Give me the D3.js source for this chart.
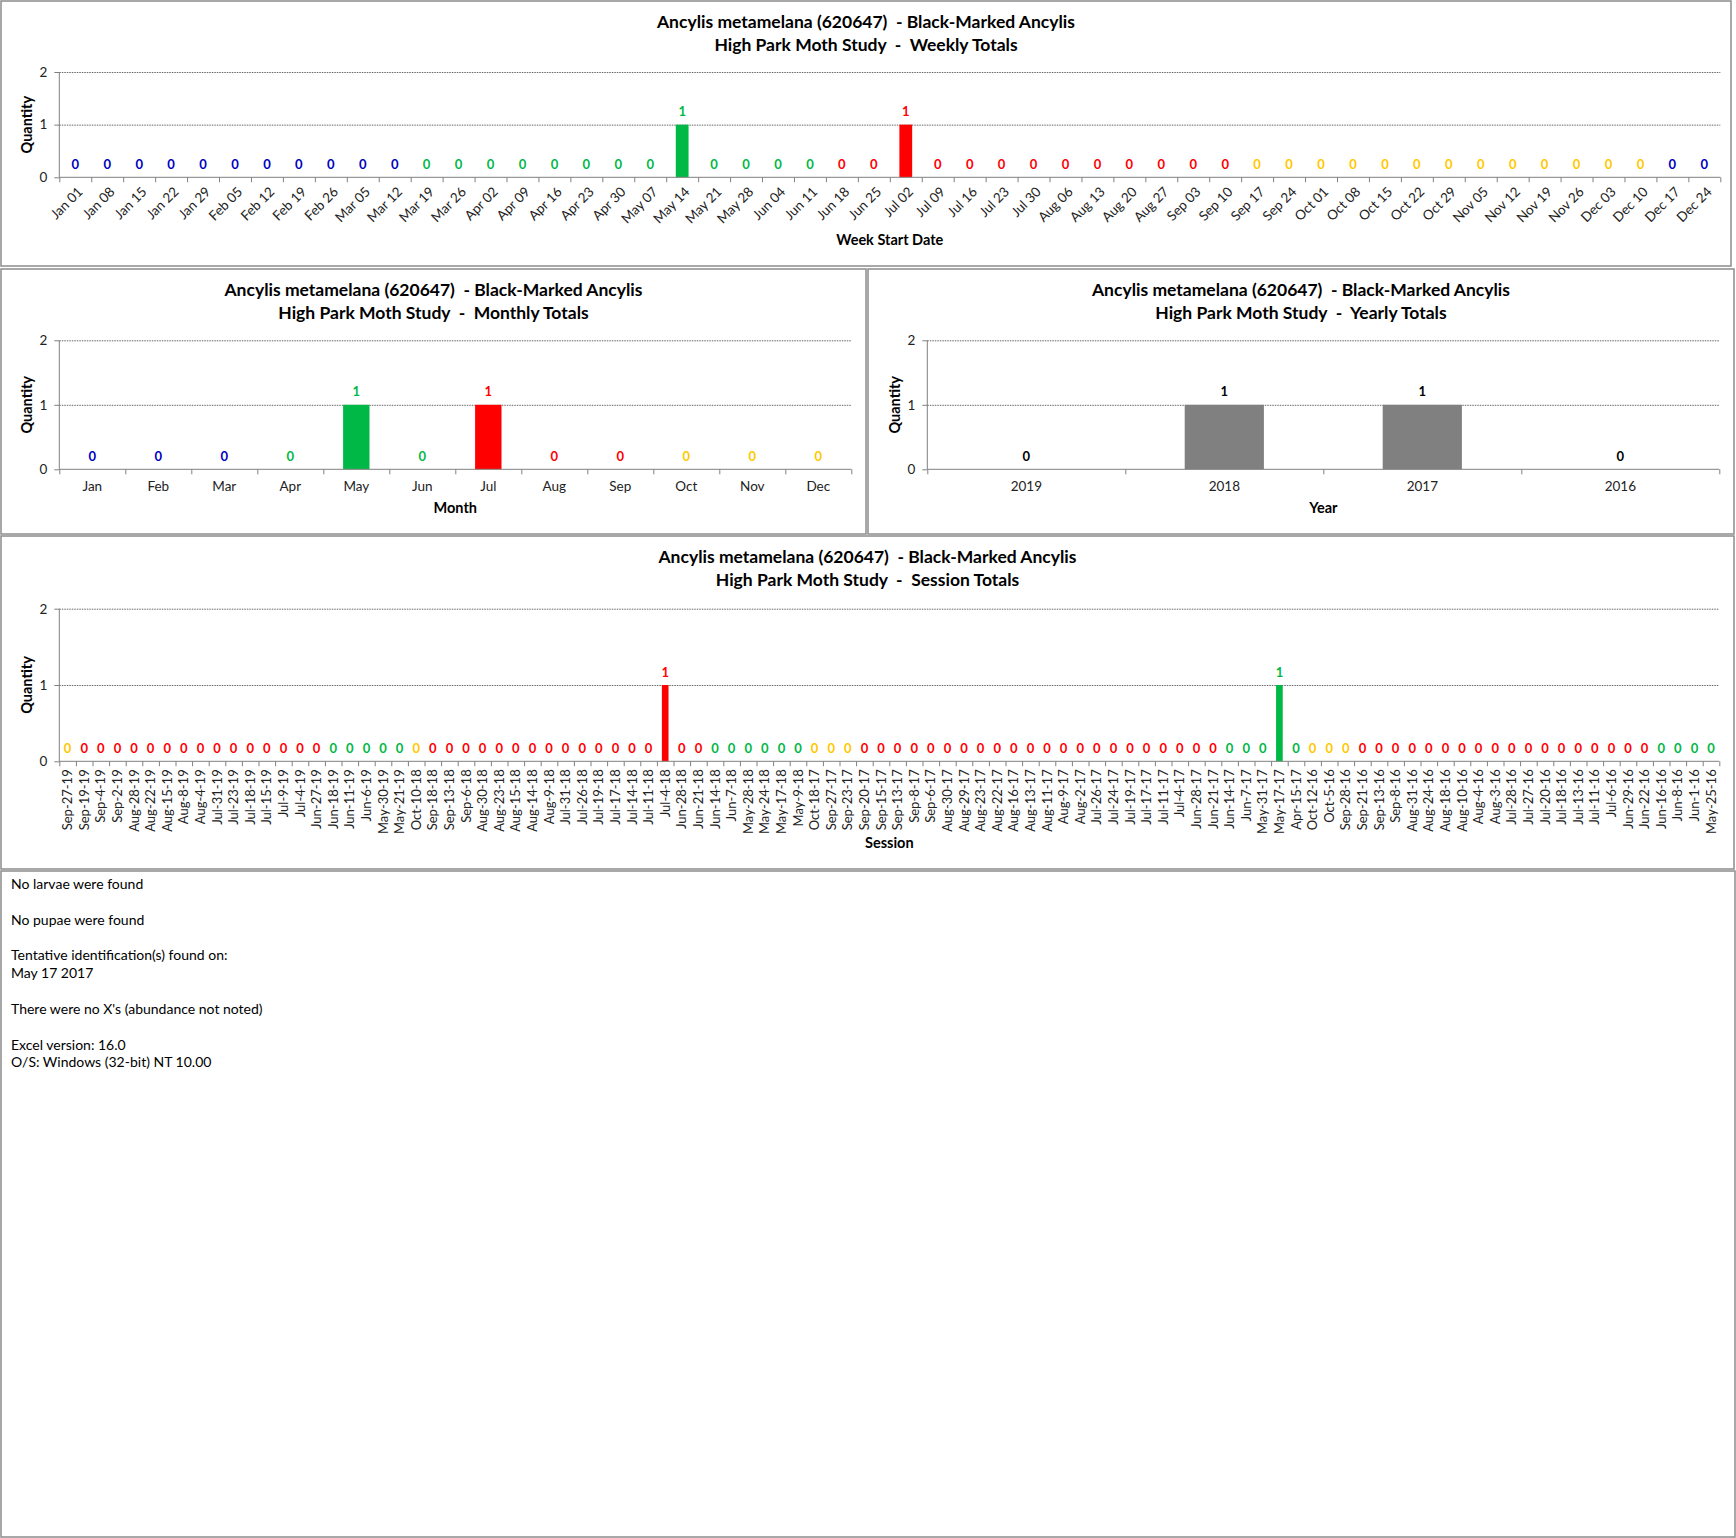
<!DOCTYPE html>
<html>
<head>
<meta charset="utf-8">
<script src="https://cdn.jsdelivr.net/npm/d3@7"></script>
<style>
  body { margin: 0; background: #fff; }
  text { font-family: Lato, "Liberation Sans", sans-serif; }
</style>
</head>
<body>
<div id="chart"></div>
<script>
// ---- data ----
var weekCats = ["Jan 01","Jan 08","Jan 15","Jan 22","Jan 29","Feb 05","Feb 12","Feb 19","Feb 26","Mar 05","Mar 12",
  "Mar 19","Mar 26","Apr 02","Apr 09","Apr 16","Apr 23","Apr 30","May 07","May 14","May 21","May 28","Jun 04","Jun 11",
  "Jun 18","Jun 25","Jul 02","Jul 09","Jul 16","Jul 23","Jul 30","Aug 06","Aug 13","Aug 20","Aug 27","Sep 03","Sep 10",
  "Sep 17","Sep 24","Oct 01","Oct 08","Oct 15","Oct 22","Oct 29","Nov 05","Nov 12","Nov 19","Nov 26","Dec 03","Dec 10",
  "Dec 17","Dec 24"];
var weekVals = [0,0,0,0,0,0,0,0,0,0,0, 0,0,0,0,0,0,0,0,1,0,0,0,0, 0,0,1,0,0,0,0,0,0,0,0,0,0, 0,0,0,0,0,0,0,0,0,0,0,0,0, 0,0];
var weekSeason = "BBBBBBBBBBBGGGGGGGGGGGGGRRRRRRRRRRRRRYYYYYYYYYYYYYBB";

var monthCats = ["Jan","Feb","Mar","Apr","May","Jun","Jul","Aug","Sep","Oct","Nov","Dec"];
var monthVals = [0,0,0,0,1,0,1,0,0,0,0,0];
var monthSeason = "BBBGGGRRRYYY";

var yearCats = ["2019","2018","2017","2016"];
var yearVals = [0,1,1,0];

var sessionCats = ["Sep-27-19","Sep-19-19","Sep-4-19","Sep-2-19","Aug-28-19","Aug-22-19","Aug-15-19","Aug-8-19","Aug-4-19",
  "Jul-31-19","Jul-23-19","Jul-18-19","Jul-15-19","Jul-9-19","Jul-4-19","Jun-27-19","Jun-18-19","Jun-11-19","Jun-6-19",
  "May-30-19","May-21-19","Oct-10-18","Sep-18-18","Sep-13-18","Sep-6-18","Aug-30-18","Aug-23-18","Aug-15-18","Aug-14-18",
  "Aug-9-18","Jul-31-18","Jul-26-18","Jul-19-18","Jul-17-18","Jul-14-18","Jul-11-18","Jul-4-18","Jun-28-18","Jun-21-18",
  "Jun-14-18","Jun-7-18","May-28-18","May-24-18","May-17-18","May-9-18","Oct-18-17","Sep-27-17","Sep-23-17","Sep-20-17",
  "Sep-15-17","Sep-13-17","Sep-8-17","Sep-6-17","Aug-30-17","Aug-29-17","Aug-23-17","Aug-22-17","Aug-16-17","Aug-13-17",
  "Aug-11-17","Aug-9-17","Aug-2-17","Jul-26-17","Jul-24-17","Jul-19-17","Jul-17-17","Jul-11-17","Jul-4-17","Jun-28-17",
  "Jun-21-17","Jun-14-17","Jun-7-17","May-31-17","May-17-17","Apr-15-17","Oct-12-16","Oct-5-16","Sep-28-16","Sep-21-16",
  "Sep-13-16","Sep-8-16","Aug-31-16","Aug-24-16","Aug-18-16","Aug-10-16","Aug-4-16","Aug-3-16","Jul-28-16","Jul-27-16",
  "Jul-20-16","Jul-18-16","Jul-13-16","Jul-11-16","Jul-6-16","Jun-29-16","Jun-22-16","Jun-16-16","Jun-8-16","Jun-1-16",
  "May-25-16"];
var sessionVals = sessionCats.map(function (d) { return 0; });
sessionVals[36] = 1;   // Jul-4-18
sessionVals[73] = 1;   // May-17-17
var sessionSeason = "YRRRRRRRRRRRRRRRGGGGGYRRRRRRRRRRRRRRRRRGGGGGGYYYRRRRRRRRRRRRRRRRRRRRRRGGGGGYYYRRRRRRRRRRRRRRRRRRGGGG";

var yTicks = [0,1,2];
var speciesTitle = "Ancylis metamelana (620647)  - Black-Marked Ancylis";

var notes = [
  ["No larvae were found"],
  ["No pupae were found"],
  ["Tentative identification(s) found on:", "May 17 2017"],
  ["There were no X's (abundance not noted)"],
  ["Excel version: 16.0", "O/S: Windows (32-bit) NT 10.00"]
];

// ---- styling ----
var seasonColor = { B: "#0000C0", G: "#00B845", R: "#FF0000", Y: "#FFC800" };
var gray = "#808080";

var svg = d3.select("#chart").append("svg")
    .attr("width", 1736)
    .attr("height", 1538);

svg.append("rect").attr("width", 1736).attr("height", 1538).attr("fill", "#fff");

const panelBox = (x0, y0, x1, y1) => {
  svg.append("rect")
    .attr("x", x0).attr("y", y0)
    .attr("width", x1 - x0).attr("height", y1 - y0)
    .attr("fill", "none")
    .attr("stroke", "#8c8c8c")
    .attr("stroke-width", 1.5);
}

const drawBarChart = (o) => {
  var g = svg.append("g");
  var n = o.cats.length;

  var x = d3.scaleBand()
    .domain(o.cats)
    .range([o.left, o.right])
    .paddingInner(0.6)
    .paddingOuter(0.3);
  var xi = d3.scaleLinear().domain([0, n]).range([o.left, o.right]);
  var y = d3.scaleLinear().domain([0, 2]).range([o.bottom, o.top]);

  var data = o.cats.map((c, i) => ({ cat: c, val: o.vals[i], col: o.colors[i] }));

  // title
  var cx = (o.px0 + o.px1) / 2;
  g.append("text")
    .attr("x", cx).attr("y", o.titleY)
    .attr("text-anchor", "middle")
    .style("white-space", "pre")
    .style("font-size", "17.5px").style("font-weight", "bold")
    .text(speciesTitle);
  g.append("text")
    .attr("x", cx).attr("y", o.titleY + 23)
    .attr("text-anchor", "middle")
    .style("white-space", "pre")
    .style("font-size", "17.5px").style("font-weight", "bold")
    .text("High Park Moth Study  -  " + o.subtitle);

  // gridlines
  g.append("g")
    .attr("transform", "translate(" + o.left + ",0)")
    .call(d3.axisLeft(y).tickValues([1, 2]).tickSize(-(o.right - o.left)).tickFormat(""))
    .call(s => s.select(".domain").remove())
    .selectAll("line")
    .attr("stroke", "#404040")
    .attr("stroke-width", 0.8)
    .attr("stroke-dasharray", "1.5,1");

  // bars
  g.selectAll(".bar")
    .data(data)
    .enter()
    .append("rect")
    .attr("class", "bar")
    .attr("x", d => x(d.cat))
    .attr("y", d => y(d.val))
    .attr("width", x.bandwidth())
    .attr("height", d => y(0) - y(d.val))
    .attr("fill", d => d.col);

  // data labels
  g.selectAll(".lbl")
    .data(data)
    .enter()
    .append("text")
    .attr("class", "lbl")
    .attr("x", d => x(d.cat) + x.bandwidth() / 2)
    .attr("y", d => y(d.val) - 13)
    .attr("dy", "0.35em")
    .attr("text-anchor", "middle")
    .style("font-size", "13px").style("font-weight", "bold")
    .attr("fill", d => o.labelColor || d.col)
    .text(d => d.val);

  // y axis
  var ya = g.append("g")
    .attr("transform", "translate(" + o.left + ",0)")
    .call(d3.axisLeft(y).tickValues(yTicks).tickSize(5).tickPadding(7).tickFormat(d3.format("d")));
  ya.select(".domain").attr("stroke", gray).attr("d", "M0," + o.bottom + "V" + o.top);
  ya.selectAll("line").attr("stroke", gray);
  ya.selectAll("text").style("font-size", "13.5px").attr("fill", "#222").style("font-family", "Lato");

  // x axis line and boundary ticks
  var xa = g.append("g")
    .attr("transform", "translate(0," + o.bottom + ")")
    .call(d3.axisBottom(xi).tickValues(d3.range(n + 1)).tickSize(5).tickFormat(""));
  xa.select(".domain").attr("stroke", gray).attr("d", "M" + o.left + ",0H" + o.right);
  xa.selectAll("line").attr("stroke", gray);

  // x category labels
  var xl = g.append("g")
    .attr("transform", "translate(0," + o.bottom + ")")
    .call(d3.axisBottom(x).tickSize(0).tickPadding(0));
  xl.select(".domain").remove();
  var xt = xl.selectAll("text")
    .style("font-size", o.rotate === 90 ? "13px" : "13.5px").style("font-family", "Lato")
    .attr("fill", "#222");
  if (o.rotate === 45) {
    xt.attr("text-anchor", "end")
      .attr("y", 0).attr("dy", "0.35em")
      .attr("transform", "translate(5,12) rotate(-45)");
  } else if (o.rotate === 90) {
    xt.attr("text-anchor", "end")
      .attr("y", 0).attr("x", 0).attr("dy", "0.35em")
      .attr("transform", "translate(0,8) rotate(-90)");
  } else {
    xt.attr("y", 22).attr("dy", "0");
  }

  // axis titles
  g.append("text")
    .attr("x", (o.left + o.right) / 2).attr("y", o.xTitleY)
    .attr("text-anchor", "middle")
    .style("font-size", "14.5px").style("font-weight", "bold")
    .text(o.xTitle);
  g.append("text")
    .attr("transform", "translate(" + (o.left - 27) + "," + ((o.top + o.bottom) / 2) + ") rotate(-90)")
    .attr("text-anchor", "middle")
    .style("font-size", "14.5px").style("font-weight", "bold")
    .text("Quantity");
}

// panels
panelBox(1, 1, 1731, 266);
panelBox(1, 269, 866, 534);
panelBox(868, 269, 1734, 534);
panelBox(1, 536, 1734, 869);
panelBox(1, 871, 1735, 1537);

drawBarChart({
  px0: 1, px1: 1731, titleY: 28,
  left: 59.3, right: 1720.3, top: 72, bottom: 177.3,
  cats: weekCats, vals: weekVals,
  colors: weekSeason.split("").map(s => seasonColor[s]),
  subtitle: "Weekly Totals", xTitle: "Week Start Date", xTitleY: 245, rotate: 45
});

drawBarChart({
  px0: 1, px1: 866, titleY: 296,
  left: 59.3, right: 851.3, top: 340.3, bottom: 469.3,
  cats: monthCats, vals: monthVals,
  colors: monthSeason.split("").map(s => seasonColor[s]),
  subtitle: "Monthly Totals", xTitle: "Month", xTitleY: 513, rotate: 0
});

drawBarChart({
  px0: 868, px1: 1734, titleY: 296,
  left: 927.3, right: 1719.3, top: 340.3, bottom: 469.3,
  cats: yearCats, vals: yearVals,
  colors: yearCats.map(() => gray), labelColor: "#000",
  subtitle: "Yearly Totals", xTitle: "Year", xTitleY: 513, rotate: 0
});

drawBarChart({
  px0: 1, px1: 1734, titleY: 563,
  left: 59.3, right: 1719.3, top: 608.7, bottom: 761.3,
  cats: sessionCats, vals: sessionVals,
  colors: sessionSeason.split("").map(s => seasonColor[s]),
  subtitle: "Session Totals", xTitle: "Session", xTitleY: 848, rotate: 90
});

// notes below the charts
var ny = 889;
var noteG = svg.append("g");
notes.forEach(function (block) {
  block.forEach(function (line) {
    noteG.append("text")
      .attr("x", 11).attr("y", ny)
      .style("font-size", "14px")
      .attr("fill", "#000")
      .text(line);
    ny += 17.7;
  });
  ny += 18;
});
</script>
</body>
</html>
